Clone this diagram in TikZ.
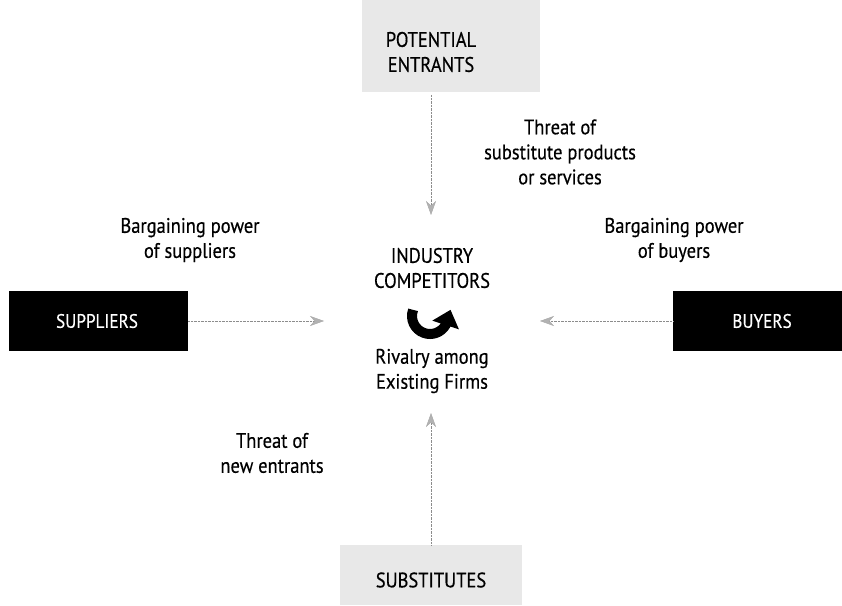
\documentclass[tikz,border=0pt]{standalone}
\usepackage{fontspec}
\setmainfont{PT Sans}[FakeStretch=0.88,FakeBold=0.4]
\usetikzlibrary{arrows.meta}

\begin{document}
\begin{tikzpicture}[x=1pt,y=1pt,
    lbl/.style={align=center,font=\fontsize{21}{25}\selectfont},
    blackbox/.style={fill=black,text=white,font=\fontsize{19.5}{20}\selectfont},
    stipple/.style={fill=black!9},
    force/.style={draw=black!45,densely dotted,-{Stealth[length=14pt,width=10pt,color=black!35,fill=black!30,sep=0pt]}},
    turn/.style={line width=10pt,-{Triangle[length=16pt,width=27pt]}}]
    \useasboundingbox (0,0) rectangle (842,605);
    % the two stippled boxes
    \fill[stipple] (362,513) rectangle (540,605);
    \fill[stipple] (340,0) rectangle (522,60);
    \node[lbl] (entrants) at (431,553) {POTENTIAL\\ENTRANTS};
    \node[lbl] (substitutes) at (431,25) {SUBSTITUTES};
    % the two black boxes
    \fill[black] (9,254) rectangle (188,314);
    \fill[black] (673,254) rectangle (842,314);
    \node[blackbox] (suppliers) at (97,284) {SUPPLIERS};
    \node[blackbox] (buyers) at (762,284) {BUYERS};
    \coordinate (supplierside) at (188,284);
    \coordinate (buyerside) at (673,284);
    \coordinate (entrantside) at (431,510);
    \coordinate (substituteside) at (431,60);
    % middle
    \node[lbl] (industry) at (432,337) {INDUSTRY\\COMPETITORS};
    \node[lbl] (rivalry) at (432,234) {Rivalry among\\Existing Firms};
    \draw[turn] (430,289) ++(160:18) arc (160:330:18) -- ++(72:16);
    % the four forces
    \coordinate (tiptop) at (431,390);
    \coordinate (tipbottom) at (431,192);
    \coordinate (tipleft) at (324,284);
    \coordinate (tipright) at (540,284);
    \draw[force] (entrantside) -- (tiptop);
    \draw[force] (substituteside) -- (tipbottom);
    \draw[force] (supplierside) -- (tipleft);
    \draw[force] (buyerside) -- (tipright);
    % labels
    \node[lbl] (subthreat) at (560,453) {Threat of\\substitute products\\or services};
    \node[lbl] (supplierpower) at (190,365) {Bargaining power\\of suppliers};
    \node[lbl] (buyerpower) at (674,365) {Bargaining power\\of buyers};
    \node[lbl] (newthreat) at (272,152) {Threat of\\new entrants};
\end{tikzpicture}
\end{document}
